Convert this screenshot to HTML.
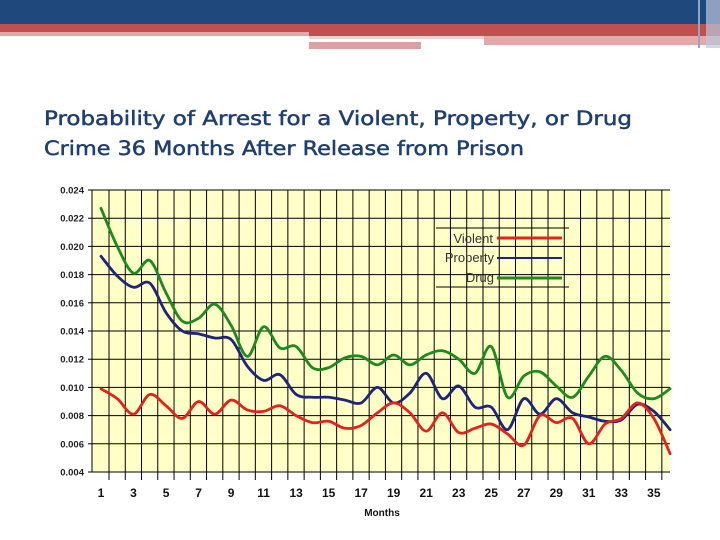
<!DOCTYPE html>
<html><head><meta charset="utf-8"><style>
html,body{margin:0;padding:0;background:#fff;width:720px;height:540px;overflow:hidden}
svg{display:block}
</style></head><body>
<svg id="root" width="720" height="540" viewBox="0 0 720 540" xmlns="http://www.w3.org/2000/svg">
<g>
<rect x="0" y="0" width="720" height="24" fill="#1F497D"/>
<rect x="0" y="24" width="720" height="8" fill="#C0504D"/>
<rect x="0" y="32" width="309" height="4" fill="#E3A9A8"/>
<rect x="309" y="32" width="411" height="4" fill="#C0504D"/>
<rect x="309" y="36" width="175" height="3" fill="#F2D0CF"/>
<rect x="484" y="36" width="236" height="9" fill="#E3A9A8"/>
<rect x="309" y="42" width="112" height="7" fill="#DDA0A0"/>
<rect x="698" y="0" width="2" height="48" fill="#8FA6C8"/>
<rect x="706" y="0" width="14" height="48" fill="#B9C7DB" opacity="0.7"/>
</g>
<text x="44" y="125" font-family="DejaVu Sans, sans-serif" font-size="19.5" stroke="#1F3F6E" stroke-width="0.5" fill="#1F3F6E" textLength="588" lengthAdjust="spacingAndGlyphs">Probability of Arrest for a Violent, Property, or Drug</text>
<text x="44" y="155" font-family="DejaVu Sans, sans-serif" font-size="19.5" stroke="#1F3F6E" stroke-width="0.5" fill="#1F3F6E" textLength="480" lengthAdjust="spacingAndGlyphs">Crime 36 Months After Release from Prison</text>
<rect x="92" y="190" width="578" height="282" fill="#FFFFC8"/>
<g id="grid"></g>
<g id="series"></g>
<g id="axes"></g>
<g>
<line x1="436" y1="228" x2="569" y2="228" stroke="#000" stroke-width="1"/>
<line x1="436" y1="287" x2="569" y2="287" stroke="#000" stroke-width="1"/>
<g font-family="Liberation Sans, sans-serif" font-size="13" fill="#333" text-anchor="end">
<text x="493" y="243">Violent</text>
<text x="494" y="262">Property</text>
<text x="494" y="282">Drug</text>
</g>
<line x1="497" y1="238" x2="562" y2="238" stroke="#E3231B" stroke-width="3"/>
<line x1="497" y1="258" x2="562" y2="258" stroke="#1F237A" stroke-width="2"/>
<line x1="497" y1="278" x2="562" y2="278" stroke="#1E8A1E" stroke-width="3"/>
</g>
</svg>
<script>
const months = [1,2,3,4,5,6,7,8,9,10,11,12,13,14,15,16,17,18,19,20,21,22,23,24,25,26,27,28,29,30,31,32,33,34,35,36];
const violent = [0.0099,0.0092,0.0081,0.0095,0.0087,0.0078,0.0090,0.0081,0.0091,0.0084,0.0083,0.0087,0.0080,0.0075,0.0076,0.0071,0.0073,0.0082,0.0089,0.0082,0.0069,0.0082,0.0068,0.0071,0.0074,0.0067,0.0059,0.0080,0.0075,0.0078,0.0060,0.0074,0.0078,0.0089,0.0078,0.0053];
const property = [0.0193,0.0179,0.0171,0.0174,0.0153,0.0140,0.0138,0.0135,0.0134,0.0115,0.0105,0.0109,0.0095,0.0093,0.0093,0.0091,0.0089,0.0100,0.0089,0.0096,0.0110,0.0092,0.0101,0.0086,0.0086,0.0070,0.0092,0.0081,0.0092,0.0082,0.0079,0.0076,0.0077,0.0088,0.0083,0.0070];
const drug = [0.0227,0.0200,0.0181,0.0190,0.0167,0.0147,0.0149,0.0159,0.0144,0.0122,0.0143,0.0128,0.0129,0.0114,0.0114,0.0121,0.0122,0.0116,0.0123,0.0116,0.0123,0.0126,0.0120,0.0110,0.0129,0.0093,0.0108,0.0111,0.0101,0.0093,0.0108,0.0122,0.0112,0.0096,0.0092,0.0099];
const yTicks = [0.004,0.006,0.008,0.010,0.012,0.014,0.016,0.018,0.020,0.022,0.024];
const xTickLabels = [1,3,5,7,9,11,13,15,17,19,21,23,25,27,29,31,33,35];

const NS='http://www.w3.org/2000/svg';
const x = m => 101 + (m-1)*16.26;
const y = v => 472 - (v-0.004)/0.002*28.2;
function mk(tag, attrs, parent){const e=document.createElementNS(NS,tag);for(const k in attrs)e.setAttribute(k,attrs[k]);parent.appendChild(e);return e;}
const grid=document.getElementById('grid'), axes=document.getElementById('axes'), series=document.getElementById('series');


yTicks.forEach(t=>{
  const l=mk('line',{x1:92,x2:670,y1:y(t),y2:y(t),stroke:'#000','stroke-width':1},grid);
  
  
  const tk=mk('line',{x1:88,x2:92,y1:y(t),y2:y(t),stroke:'#000','stroke-width':1},axes);
  
  
  const tx=mk('text',{x:84,y:y(t)+3.5,'text-anchor':'end','font-family':'Liberation Sans, sans-serif','font-size':9.5,'font-weight':'bold',fill:'#222'},axes);
  tx.textContent=t.toFixed(3);
  
  
});
months.slice(0,35).forEach(m=>{
  const l=mk('line',{x1:x(m)+8,x2:x(m)+8,y1:190,y2:480,stroke:'#000','stroke-width':1},grid);
  
  
});
mk('line',{x1:92,x2:92,y1:190,y2:472,stroke:'#000','stroke-width':1},axes);
xTickLabels.forEach(m=>{
  const tx=mk('text',{x:x(m),y:497,'text-anchor':'middle','font-family':'Liberation Sans, sans-serif','font-size':12,'font-weight':'bold',fill:'#111'},axes);
  tx.textContent=m;
  
  
});
const xt=mk('text',{x:382,y:516,'text-anchor':'middle','font-family':'Liberation Sans, sans-serif','font-size':10,'font-weight':'bold',fill:'#111'},axes);
xt.textContent='Months';


function smooth(vals){
  const p=vals.map((v,i)=>[x(months[i]),y(v)]);
  let d='M'+p[0][0]+','+p[0][1];
  for(let i=0;i<p.length-1;i++){
    const p0=p[Math.max(0,i-1)],p1=p[i],p2=p[i+1],p3=p[Math.min(p.length-1,i+2)];
    const c1=[p1[0]+(p2[0]-p0[0])/6,p1[1]+(p2[1]-p0[1])/6];
    const c2=[p2[0]-(p3[0]-p1[0])/6,p2[1]-(p3[1]-p1[1])/6];
    d+=' C'+c1.join(',')+' '+c2.join(',')+' '+p2.join(',');
  }
  return d;
}
[[drug,'#1E8A1E','drug-line'],[property,'#1F237A','property-line'],[violent,'#E3231B','violent-line']].forEach(([vals,c,n])=>{
  const p=mk('path',{d:smooth(vals),fill:'none',stroke:c,'stroke-width':2.8,'stroke-linejoin':'round','stroke-linecap':'round'},series);
  
  
});
</script>
</body></html>
